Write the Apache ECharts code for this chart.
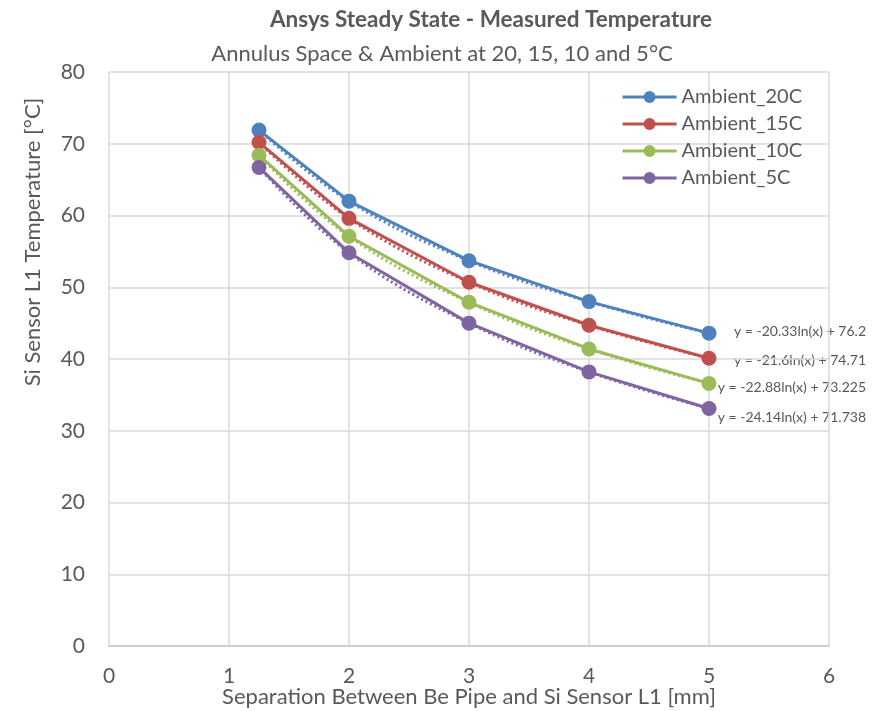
<!DOCTYPE html>
<html>
<head>
<meta charset="utf-8">
<script src="https://cdn.jsdelivr.net/npm/echarts@6/dist/echarts.min.js"></script>
<style>
  html, body { margin: 0; padding: 0; background: #fff; }
  #chart { width: 877px; height: 711px; }
</style>
</head>
<body>
<div id="chart"></div>
<script>
// separation [mm]
const xVals = [1.25, 2, 3, 4, 5]
const seriesNames = ['Ambient_20C', 'Ambient_15C', 'Ambient_10C', 'Ambient_5C']
const amb20 = [71.9, 62.0, 53.7, 48.0, 43.6]
const amb15 = [70.2, 59.6, 50.7, 44.7, 40.1]
const amb10 = [68.4, 57.1, 47.9, 41.4, 36.6]
const amb5 = [66.7, 54.8, 45.0, 38.2, 33.1]
const trendLabels = [
  'y = -20.33ln(x) + 76.2',
  'y = -21.6ln(x) + 74.71',
  'y = -22.88ln(x) + 73.225',
  'y = -24.14ln(x) + 71.738'
]
const colors = ['#4F81BD', '#C0504D', '#9BBB59', '#8064A2']

const font = 'Lato, "Open Sans", sans-serif'
const txt = '#595959'
const allData = [amb20, amb15, amb10, amb5]

const chart = echarts.init(document.getElementById('chart'))

const series = []
allData.forEach((vals, i) => {
  const pts = xVals.map((x, j) => [x, vals[j]])
  // dotted trendline underneath
  series.push({
    name: seriesNames[i] + '_trend',
    type: 'line',
    data: pts,
    smooth: 0.4,
    symbol: 'none',
    z: 1,
    silent: true,
    lineStyle: { color: colors[i], width: 3, type: [2, 3] }
  })
  series.push({
    name: seriesNames[i],
    type: 'line',
    data: pts,
    symbol: 'circle',
    symbolSize: 15,
    z: 2,
    itemStyle: { color: colors[i] },
    lineStyle: { color: colors[i], width: 3 }
  })
})

// trendline equations, right aligned like excel
const labelY = [333, 362, 389, 419]
const graphics = trendLabels.map((t, i) => ({
  type: 'text',
  right: 11,
  top: labelY[i] - 9,
  style: { text: t, fill: txt, font: '14px ' + font }
}))
// y axis title sits above centre in the original
graphics.push({
  type: 'text',
  x: 33,
  y: 242,
  rotation: Math.PI / 2,
  style: {
    text: 'Si Sensor L1 Temperature [°C]',
    fill: txt,
    font: '22px ' + font,
    textAlign: 'center',
    textVerticalAlign: 'middle'
  }
})

const option = {
  animation: false,
  textStyle: { fontFamily: font },
  title: [{
    text: 'Ansys Steady State - Measured Temperature',
    left: 486,
    top: 3,
    textAlign: 'center',
    textStyle: { fontSize: 22.5, fontWeight: 'bold', color: txt, fontFamily: font }
  }, {
    text: 'Annulus Space & Ambient at 20, 15, 10 and 5°C',
    left: 437,
    top: 38,
    textAlign: 'center',
    textStyle: { fontSize: 22, fontWeight: 'normal', color: txt, fontFamily: font }
  }],
  legend: {
    data: seriesNames,
    orient: 'vertical',
    right: 70,
    top: 82,
    itemGap: 7,
    itemWidth: 54,
    itemHeight: 15,
    lineStyle: { width: 3 },
    textStyle: { fontSize: 20, color: txt, fontFamily: font }
  },
  grid: { left: 109, right: 48, top: 72, bottom: 65, outerBoundsMode: 'none' },
  xAxis: {
    type: 'value',
    min: 0,
    max: 6,
    interval: 1,
    name: 'Separation Between Be Pipe and Si Sensor L1 [mm]',
    nameLocation: 'middle',
    nameGap: 40,
    nameMoveOverlap: false,
    nameTextStyle: { fontSize: 22, color: txt },
    axisLine: { show: true, lineStyle: { color: '#c8c8c8', width: 1.5 } },
    axisTick: { show: false },
    axisLabel: { fontSize: 21, color: txt, margin: 20 },
    splitLine: { show: true, lineStyle: { color: '#d9d9d9', width: 1.5 } }
  },
  yAxis: {
    type: 'value',
    min: 0,
    max: 80,
    interval: 10,
    axisLine: { show: false },
    axisTick: { show: false },
    axisLabel: { fontSize: 21, color: txt, margin: 24 },
    splitLine: { show: true, lineStyle: { color: '#d9d9d9', width: 1.5 } }
  },
  graphic: graphics,
  series: series
}

chart.setOption(option)
</script>
</body>
</html>
